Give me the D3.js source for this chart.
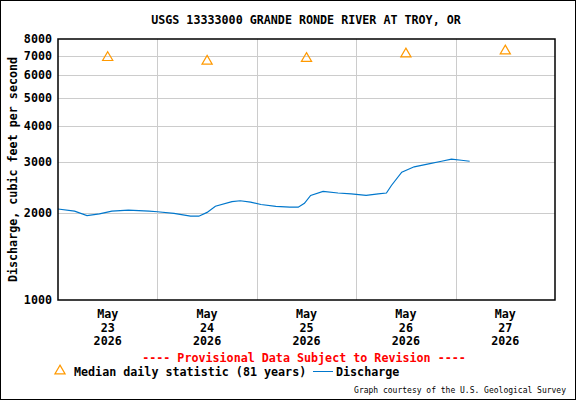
<!DOCTYPE html>
<html>
<head>
<meta charset="utf-8">
<script src="https://d3js.org/d3.v7.min.js"></script>
<style>
  body { margin: 0; background: #fff; }
  text { font-family: "DejaVu Sans Mono", monospace; font-weight: bold; font-size: 11.7px; fill: #000; }
  .grid line { stroke: #cccccc; stroke-width: 1px; }
</style>
</head>
<body>
<div id="chart"></div>
<script>
// median daily statistic, one per day at noon
var medianDays = ["2026-05-23", "2026-05-24", "2026-05-25", "2026-05-26", "2026-05-27"];
var medianVals = [6900, 6700, 6850, 7100, 7270];

// discharge: hours after 2026-05-23 00:00, value in cfs
var qHours = [0, 4, 7, 10, 13, 17, 22, 24, 28, 32, 34, 36, 38, 42, 44, 46.5, 49, 52.6, 56, 58,
              59.5, 61, 64, 67.6, 70.8, 74.4, 77.3, 79.3, 80.5, 83, 86, 89.5, 92.6, 95, 97.4, 99.4];
var qVals = [2065, 2030, 1960, 1985, 2030, 2045, 2030, 2020, 1995, 1950, 1950, 2010, 2110, 2190, 2205, 2180, 2140, 2110, 2095, 2095,
             2160, 2300, 2375, 2345, 2330, 2300, 2330, 2345, 2490, 2770, 2890, 2960, 3020, 3070, 3045, 3020];

var yTicks = [1000, 2000, 3000, 4000, 5000, 6000, 7000, 8000];

var W = 576, H = 400;
var margin = {top: 39, left: 58, right: 21, bottom: 100};
var width = W - margin.left - margin.right, height = H - margin.top - margin.bottom;

var svg = d3.select("#chart").append("svg").attr("width", W).attr("height", H);
svg.append("rect").attr("x", 0.5).attr("y", 0.5).attr("width", W - 1).attr("height", H - 1)
  .attr("fill", "#fff").attr("stroke", "#000");

var t0 = new Date(2026, 4, 23);
var x = d3.scaleTime().domain([t0, new Date(2026, 4, 28)]).range([0, width]);
var y = d3.scaleLog().domain([1000, 8000]).range([height, 0]);

var g = svg.append("g").attr("transform", "translate(" + margin.left + "," + margin.top + ")");

// grid
var days = d3.timeDay.range(new Date(2026, 4, 24), new Date(2026, 4, 28));
g.append("g").attr("class", "grid").selectAll("line").data(days).enter().append("line")
  .attr("x1", function(d) { return Math.round(x(d)) + 0.5; }).attr("x2", function(d) { return Math.round(x(d)) + 0.5; })
  .attr("y1", 0).attr("y2", height);
g.append("g").attr("class", "grid").selectAll("line").data(yTicks.slice(1, -1)).enter().append("line")
  .attr("x1", 0).attr("x2", width)
  .attr("y1", function(d) { return Math.round(y(d)) + 0.5; }).attr("y2", function(d) { return Math.round(y(d)) + 0.5; });

// y labels
g.selectAll(".yl").data(yTicks).enter().append("text")
  .attr("x", -6).attr("y", function(d) { return y(d) + 4; })
  .attr("text-anchor", "end").text(function(d) { return d; });

// x labels at noon
var noons = medianDays.map(function(s) { return d3.timeHour.offset(d3.timeParse("%Y-%m-%d")(s), 12); });
var xl = g.selectAll(".xl").data(noons).enter().append("text")
  .attr("text-anchor", "middle").attr("transform", function(d) { return "translate(" + x(d) + "," + (height + 18) + ")"; });
xl.append("tspan").attr("x", 0).attr("y", 0).text("May");
xl.append("tspan").attr("x", 0).attr("y", 13.5).text(function(d) { return d.getDate(); });
xl.append("tspan").attr("x", 0).attr("y", 27).text(function(d) { return d.getFullYear(); });

// discharge line
var qData = qHours.map(function(h, i) { return {t: d3.timeMinute.offset(t0, Math.round(h * 60)), v: qVals[i]}; });
g.append("path").datum(qData).attr("fill", "none").attr("stroke", "#0077cc").attr("stroke-width", 1.2)
  .attr("d", d3.line().x(function(d) { return x(d.t); }).y(function(d) { return y(d.v); }));

// median triangles
var tri = d3.symbol().type(d3.symbolTriangle).size(45);
g.selectAll(".med").data(noons).enter().append("path")
  .attr("d", tri).attr("fill", "none").attr("stroke", "#ff9900").attr("stroke-width", 1.2)
  .attr("transform", function(d, i) { return "translate(" + x(d) + "," + y(medianVals[i]) + ")"; });

// frame
g.append("rect").attr("x", 0).attr("y", 0).attr("width", width).attr("height", height)
  .attr("fill", "none").attr("stroke", "#000").attr("stroke-width", 1.5);

// titles
svg.append("text").attr("x", 306).attr("y", 24).attr("text-anchor", "middle")
  .text("USGS 13333000 GRANDE RONDE RIVER AT TROY, OR");
svg.append("text").attr("transform", "translate(17," + (margin.top + height / 2) + ") rotate(-90)")
  .attr("text-anchor", "middle").text("Discharge, cubic feet per second");
svg.append("text").attr("x", 304).attr("y", 362).attr("text-anchor", "middle").style("fill", "#ff0000")
  .text("---- Provisional Data Subject to Revision ----");

// legend
svg.append("path").attr("d", tri).attr("fill", "none").attr("stroke", "#ff9900").attr("stroke-width", 1.2)
  .attr("transform", "translate(60,371)");
svg.append("text").attr("x", 74).attr("y", 376).text("Median daily statistic (81 years)");
svg.append("line").attr("x1", 313).attr("x2", 333).attr("y1", 371.5).attr("y2", 371.5).attr("stroke", "#0077cc");
svg.append("text").attr("x", 336).attr("y", 376).text("Discharge");
svg.append("text").attr("x", 566).attr("y", 393).attr("text-anchor", "end").style("font-size", "8px").style("font-weight", "normal")
  .text("Graph courtesy of the U.S. Geological Survey");
</script>
</body>
</html>
